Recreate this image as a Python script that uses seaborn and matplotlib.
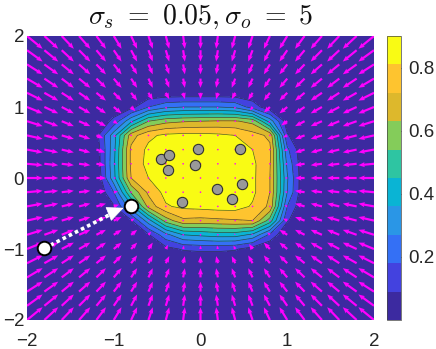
import numpy as np
import seaborn as sns
import matplotlib
matplotlib.use("Agg")
import matplotlib.pyplot as plt

grid_x = [-2, -1.8, -1.6, -1.4, -1.2, -1, -.8, -.6, -.4, -.2, 0, .2, .4, .6, .8, 1, 1.2, 1.4, 1.6, 1.8, 2]
grid_y = [2, 1.8, 1.6, 1.4, 1.2, 1, .8, .6, .4, .2, 0, -.2, -.4, -.6, -.8, -1, -1.2, -1.4, -1.6, -1.8, -2]

# probability surface, rows run from y=2 down to y=-2
z_rows = [
    [0] * 21,
    [0] * 21,
    [0] * 21,
    [0] * 21,
    [0, 0, 0, 0, 0, 0, 0, .02, .02, .02, .02, .02, .02, .02, 0, 0, 0, 0, 0, 0, 0],
    [0, 0, 0, 0, 0, .01, .06, .18, .25, .27, .27, .27, .25, .14, .03, 0, 0, 0, 0, 0, 0],
    [0, 0, 0, 0, 0, .12, .34, .54, .60, .62, .63, .64, .64, .60, .32, .04, 0, 0, 0, 0, 0],
    [0, 0, 0, 0, .06, .32, .68, .79, .83, .84, .84, .83, .81, .76, .70, .10, 0, 0, 0, 0, 0],
    [0, 0, 0, 0, .03, .33, .74, .83, .87, .88, .88, .87, .84, .81, .74, .20, 0, 0, 0, 0, 0],
    [0, 0, 0, 0, .02, .34, .74, .84, .88, .89, .89, .88, .86, .83, .73, .25, 0, 0, 0, 0, 0],
    [0, 0, 0, 0, 0, .33, .72, .81, .87, .89, .89, .89, .87, .83, .72, .28, 0, 0, 0, 0, 0],
    [0, 0, 0, 0, 0, .18, .55, .74, .84, .88, .89, .89, .87, .83, .72, .27, 0, 0, 0, 0, 0],
    [0, 0, 0, 0, 0, .08, .33, .66, .80, .83, .84, .85, .85, .80, .70, .18, 0, 0, 0, 0, 0],
    [0, 0, 0, 0, 0, 0, .08, .32, .58, .70, .69, .70, .71, .72, .50, .10, 0, 0, 0, 0, 0],
    [0, 0, 0, 0, 0, 0, 0, .08, .24, .36, .38, .40, .40, .34, .16, 0, 0, 0, 0, 0, 0],
    [0, 0, 0, 0, 0, 0, 0, 0, .06, .10, .11, .11, .10, .05, 0, 0, 0, 0, 0, 0, 0],
    [0] * 21,
    [0] * 21,
    [0] * 21,
    [0] * 21,
    [0] * 21,
]

u_far = [.18, .16, .14, .13, .11, .09, .07, .05, .04, .02, 0, -.02, -.04, -.05, -.07, -.09, -.11, -.13, -.14, -.16, -.18]
u_rows = [
    u_far, u_far, u_far, u_far, u_far,
    [.18, .16, .14, .13, .11, .09, .05, .02, .01, .01, 0, -.01, -.01, -.03, -.07, -.09, -.11, -.13, -.14, -.16, -.18],
    [.18, .16, .14, .13, .11, .05, .02, .01, .005, .002, 0, -.002, -.005, -.01, -.02, -.07, -.11, -.13, -.14, -.16, -.18],
    [.18, .16, .14, .13, .08, .03, .01, .004, .002, .001, 0, -.001, -.002, -.004, -.01, -.05, -.11, -.13, -.14, -.16, -.18],
    [.18, .16, .14, .13, .10, .03, .01, .004, .002, .001, 0, -.001, -.002, -.004, -.01, -.04, -.11, -.13, -.14, -.16, -.18],
    [.18, .16, .14, .13, .10, .03, .01, .004, .002, .001, 0, -.001, -.002, -.004, -.01, -.03, -.11, -.13, -.14, -.16, -.18],
    [.18, .16, .14, .13, .11, .03, .01, .004, .002, .001, 0, -.001, -.002, -.004, -.01, -.03, -.11, -.13, -.14, -.16, -.18],
    [.18, .16, .14, .13, .11, .05, .015, .005, .002, .001, 0, -.001, -.002, -.004, -.01, -.03, -.11, -.13, -.14, -.16, -.18],
    [.18, .16, .14, .13, .11, .06, .02, .005, .002, .001, 0, -.001, -.002, -.005, -.01, -.035, -.11, -.13, -.14, -.16, -.18],
    [.18, .16, .14, .13, .11, .09, .04, .015, .006, .002, 0, -.002, -.003, -.005, -.015, -.05, -.11, -.13, -.14, -.16, -.18],
    [.18, .16, .14, .13, .11, .09, .07, .03, .012, .005, 0, -.005, -.012, -.015, -.03, -.09, -.11, -.13, -.14, -.16, -.18],
    [.18, .16, .14, .13, .11, .09, .07, .05, .025, .01, 0, -.01, -.02, -.04, -.07, -.09, -.11, -.13, -.14, -.16, -.18],
    u_far, u_far, u_far, u_far, u_far,
]

v_rows = [
    [-.18] * 21,
    [-.16] * 21,
    [-.14] * 21,
    [-.13] * 21,
    [-.11, -.11, -.11, -.11, -.11, -.11, -.11, -.10, -.09, -.09, -.09, -.09, -.09, -.10, -.11, -.11, -.11, -.11, -.11, -.11, -.11],
    [-.09, -.09, -.09, -.09, -.09, -.09, -.06, -.04, -.035, -.03, -.03, -.03, -.035, -.05, -.08, -.09, -.09, -.09, -.09, -.09, -.09],
    [-.07, -.07, -.07, -.07, -.07, -.04, -.025, -.02, -.02, -.02, -.02, -.02, -.02, -.02, -.025, -.06, -.07, -.07, -.07, -.07, -.07],
    [-.05, -.05, -.05, -.05, -.04, -.02, -.008, -.005, -.005, -.005, -.005, -.005, -.005, -.005, -.01, -.03, -.05, -.05, -.05, -.05, -.05],
    [-.04, -.04, -.04, -.04, -.04, -.015, -.004, -.004, -.004, -.004, -.004, -.004, -.004, -.004, -.004, -.015, -.04, -.04, -.04, -.04, -.04],
    [-.02, -.02, -.02, -.02, -.02, -.006, -.002, -.002, -.002, -.002, -.002, -.002, -.002, -.002, -.002, -.006, -.02, -.02, -.02, -.02, -.02],
    [0] * 21,
    [.02, .02, .02, .02, .02, .01, .005, .002, .002, .002, .002, .002, .002, .002, .002, .006, .02, .02, .02, .02, .02],
    [.04, .04, .04, .04, .04, .025, .012, .004, .004, .004, .004, .004, .004, .004, .004, .015, .04, .04, .04, .04, .04],
    [.05, .05, .05, .05, .05, .05, .03, .018, .01, .005, .005, .005, .005, .005, .01, .03, .05, .05, .05, .05, .05],
    [.07, .07, .07, .07, .07, .07, .07, .045, .025, .02, .02, .02, .02, .02, .035, .07, .07, .07, .07, .07, .07],
    [.09, .09, .09, .09, .09, .09, .09, .09, .06, .05, .05, .05, .05, .07, .09, .09, .09, .09, .09, .09, .09],
    [.11, .11, .11, .11, .11, .11, .11, .11, .10, .10, .10, .10, .10, .11, .11, .11, .11, .11, .11, .11, .11],
    [.13] * 21,
    [.14] * 21,
    [.16] * 21,
    [.18] * 21,
]

levels = [0, .09, .18, .27, .36, .45, .54, .63, .72, .81, .9]
band_colors = ["#3C2AA0", "#4342DF", "#3470F5", "#2A96E6", "#0AB4D4",
               "#2EC5A2", "#84CC5A", "#DDB82C", "#FEC42F", "#F9FB14"]

sample_x = [-.455, -.363, -.029, .455, -.375, -.06, .194, .482, .36, -.213]
sample_y = [.263, .324, .404, .408, .113, .187, -.151, -.08, -.30, -.338]

path_x = [-1.80, -.80]
path_y = [-.99, -.39]
path_tip = [-.886, -.42]

sns.set_theme(style="white")
plt.rcParams["font.family"] = ["Liberation Sans"]
plt.rcParams["mathtext.fontset"] = "cm"

fig = plt.figure(figsize=(4.36, 3.49), dpi=100)
ax = fig.add_axes([27 / 436, 1 - 320 / 349, 347 / 436, 284 / 349])
cax = fig.add_axes([387 / 436, 1 - 320 / 349, 14 / 436, 284 / 349])

z = np.array(z_rows, dtype=float)
cf = ax.contourf(grid_x, grid_y, z, levels=levels, colors=band_colors)
ax.contour(grid_x, grid_y, z, levels=levels[1:-1], colors="#2b2b2b", linewidths=0.5, alpha=0.8)

ax.quiver(grid_x, grid_y, np.array(u_rows), np.array(v_rows), angles="xy", scale_units="xy", scale=1,
          color="#FF00FF", units="dots", width=2.2, headwidth=2.3, headlength=2.9, headaxislength=2.6,
          minlength=0.8, zorder=3)

sns.scatterplot(x=sample_x, y=sample_y, s=55, color="#999999", edgecolor="#303030", linewidth=0.8, ax=ax, zorder=4)

# dotted move from the start point to the end point
ax.plot([path_x[0], path_tip[0] - .1], [path_y[0], path_tip[1] - .06], color="white", lw=2.6,
        linestyle=(0, (1, 0.9)), dash_capstyle="butt", zorder=5)
ax.annotate("", xy=(path_tip[0], path_tip[1]), xytext=(path_tip[0] - .2, path_tip[1] - .1),
            arrowprops=dict(arrowstyle="-|>,head_length=1.0,head_width=0.45", color="white", lw=0.5,
                            shrinkA=0, shrinkB=0, mutation_scale=11), zorder=5)
sns.scatterplot(x=path_x, y=path_y, s=95, color="white", edgecolor="black", linewidth=1.4, ax=ax, zorder=6, clip_on=False)

ax.set_xlim(-2, 2)
ax.set_ylim(-2, 2)
ax.set_xticks([-2, -1, 0, 1, 2])
ax.set_yticks([-2, -1, 0, 1, 2])
ax.tick_params(labelsize=13.5, length=0, colors="#262626")
ax.tick_params(axis="x", pad=9)
ax.tick_params(axis="y", pad=2)
for s in ax.spines.values():
    s.set_visible(False)
ax.set_title(r"$\sigma_s\ =\ 0.05,\sigma_o\ =\ 5$", fontsize=20, pad=9, color="#111111")

cb = fig.colorbar(cf, cax=cax, ticks=[.2, .4, .6, .8])
cb.ax.tick_params(labelsize=13.5, length=2, width=0.5, direction="in", colors="#262626", pad=5)
cb.ax.set_yticklabels(["0.2", "0.4", "0.6", "0.8"])
cb.outline.set_linewidth(0.5)
cb.outline.set_edgecolor("#444444")

fig.savefig("out.png", dpi=100)
